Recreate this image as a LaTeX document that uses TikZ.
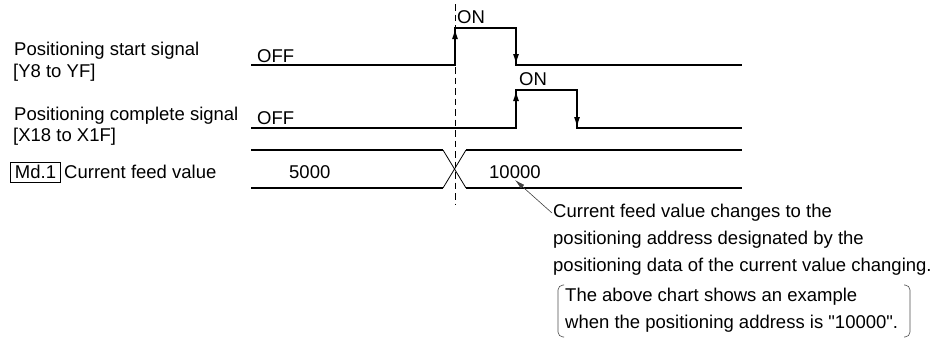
\documentclass[tikz,border=0pt]{standalone}
\usepackage{fontspec}
\setmainfont{Liberation Sans}[Ligatures=TeXOff]
\usetikzlibrary{arrows.meta,calc}
\begin{document}
\begin{tikzpicture}[x=1pt,y=-1pt,
  lbl/.style={anchor=base west,inner sep=0pt,font=\fontsize{18.5}{22}\selectfont},
  wave/.style={line width=1.8pt,line cap=butt,line join=miter},
  tip/.style={line width=1.8pt,-{Latex[length=11pt,width=6pt]}},
  thinline/.style={line width=0.8pt},
  guide/.style={line width=0.8pt,dash pattern=on 6.5pt off 4pt},
  leader/.style={line width=0.6pt,draw=black!75,-{Latex[length=10pt,width=5pt]}},
  bracketline/.style={line width=0.6pt,draw=black!70,rounded corners=5pt}]
\useasboundingbox (0,0) rectangle (939,340);
% coordinates
\coordinate (s0) at (251,65);  \coordinate (s1) at (455,65);
\coordinate (s2) at (455,28);  \coordinate (s3) at (516,28);
\coordinate (s4) at (516,65);  \coordinate (s5) at (742,65);
\coordinate (c0) at (251,128); \coordinate (c1) at (516,128);
\coordinate (c2) at (516,90);  \coordinate (c3) at (577,90);
\coordinate (c4) at (577,128); \coordinate (c5) at (742,128);
\coordinate (b0) at (251,150); \coordinate (b1) at (443,150);
\coordinate (b2) at (466,188); \coordinate (b3) at (251,188);
\coordinate (b4) at (443,188); \coordinate (b5) at (466,150);
\coordinate (b6) at (742,150); \coordinate (b7) at (742,188);
\coordinate (g0) at (455,4);   \coordinate (g1) at (455,205);
% guide
\draw[guide] (g0) -- (g1);
% start signal
\draw[wave] (s0) -- (s1) -- (s2) -- (s3) -- (s4) -- (s5);
\draw[tip] ($(s1)!0.5!(s2)$) -- (s2);
\draw[tip] ($(s3)!0.5!(s4)$) -- (s4);
% complete signal
\draw[wave] (c0) -- (c1) -- (c2) -- (c3) -- (c4) -- (c5);
\draw[tip] ($(c1)!0.5!(c2)$) -- (c2);
\draw[tip] ($(c3)!0.5!(c4)$) -- (c4);
% bus
\draw[wave] (b0) -- (b1);
\draw[wave] (b3) -- (b4);
\draw[wave] (b5) -- (b6);
\draw[wave] (b2) -- (b7);
\draw[thinline] (b1) -- (b2);
\draw[thinline] (b4) -- (b5);
% labels
\node[lbl] (ls1) at (14,55.5) {Positioning start signal};
\node[lbl] (ls2) at (13,77.5) {[Y8 to YF]};
\node[lbl] (lc1) at (14,120) {Positioning complete signal};
\node[lbl] (lc2) at (13,141.5) {[X18 to X1F]};
\node[lbl,draw,line width=0.9pt,inner xsep=4.5pt,inner ysep=2.5pt,text height=13.5pt,text depth=2pt] (md) at (10,178) {Md.1};
\node[lbl] (cfv) at (64,178) {Current feed value};
\node[lbl] (off1) at (257,62) {OFF};
\node[lbl] (off2) at (257,124) {OFF};
\node[lbl] (on1) at (457,23.3) {ON};
\node[lbl] (on2) at (519,85) {ON};
\node[lbl] (v1) at (289,178) {5000};
\node[lbl] (v2) at (489,178) {10000};
% annotation
\coordinate (ltail) at (552,213);
\coordinate (lhead) at (515,180);
\draw[leader] (ltail) -- (lhead);
\node[lbl] (a1) at (553,217) {Current feed value changes to the};
\node[lbl] (a2) at (553,244) {positioning address designated by the};
\node[lbl] (a3) at (553,271) {positioning data of the current value changing.};
\node[lbl] (a4) at (565,301) {The above chart shows an example};
\node[lbl] (a5) at (565,328) {when the positioning address is "10000".};
\draw[bracketline] (564,285) -- (558,285) -- (558,337) -- (564,337);
\draw[bracketline] (904,285) -- (910,285) -- (910,337) -- (904,337);
\end{tikzpicture}
\end{document}
